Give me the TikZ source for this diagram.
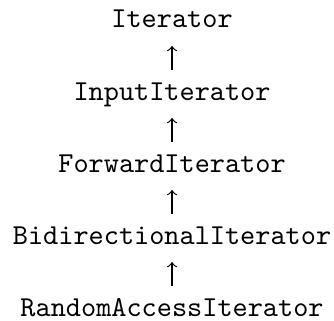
\documentclass[tikz,border=0pt]{standalone}
\usepackage{tikz}
\usetikzlibrary{arrows, positioning}

\begin{document}
\begin{tikzpicture}[x=1pt, y=1pt, cls/.style={inner sep=0pt, anchor=base, font=\ttfamily, text height=6.1pt, text depth=0pt}, up/.style={->, line width=0.4pt, shorten <=4.2pt, shorten >=6pt}]
\useasboundingbox (0, 0) rectangle (115.7, -111.2);
\node[cls] (It) at (59.6, -9.7) {Iterator};
\node[cls] (In) at (59.6, -34.65) {InputIterator};
\node[cls] (Fw) at (59.6, -59.6) {ForwardIterator};
\node[cls] (Bi) at (59.6, -84.55) {BidirectionalIterator};
\node[cls] (RA) at (59.6, -109.5) {RandomAccessIterator};
\draw[up] (In) to (It);
\draw[up] (Fw) to (In);
\draw[up] (Bi) to (Fw);
\draw[up] (RA) to (Bi);
\end{tikzpicture}
\end{document}
